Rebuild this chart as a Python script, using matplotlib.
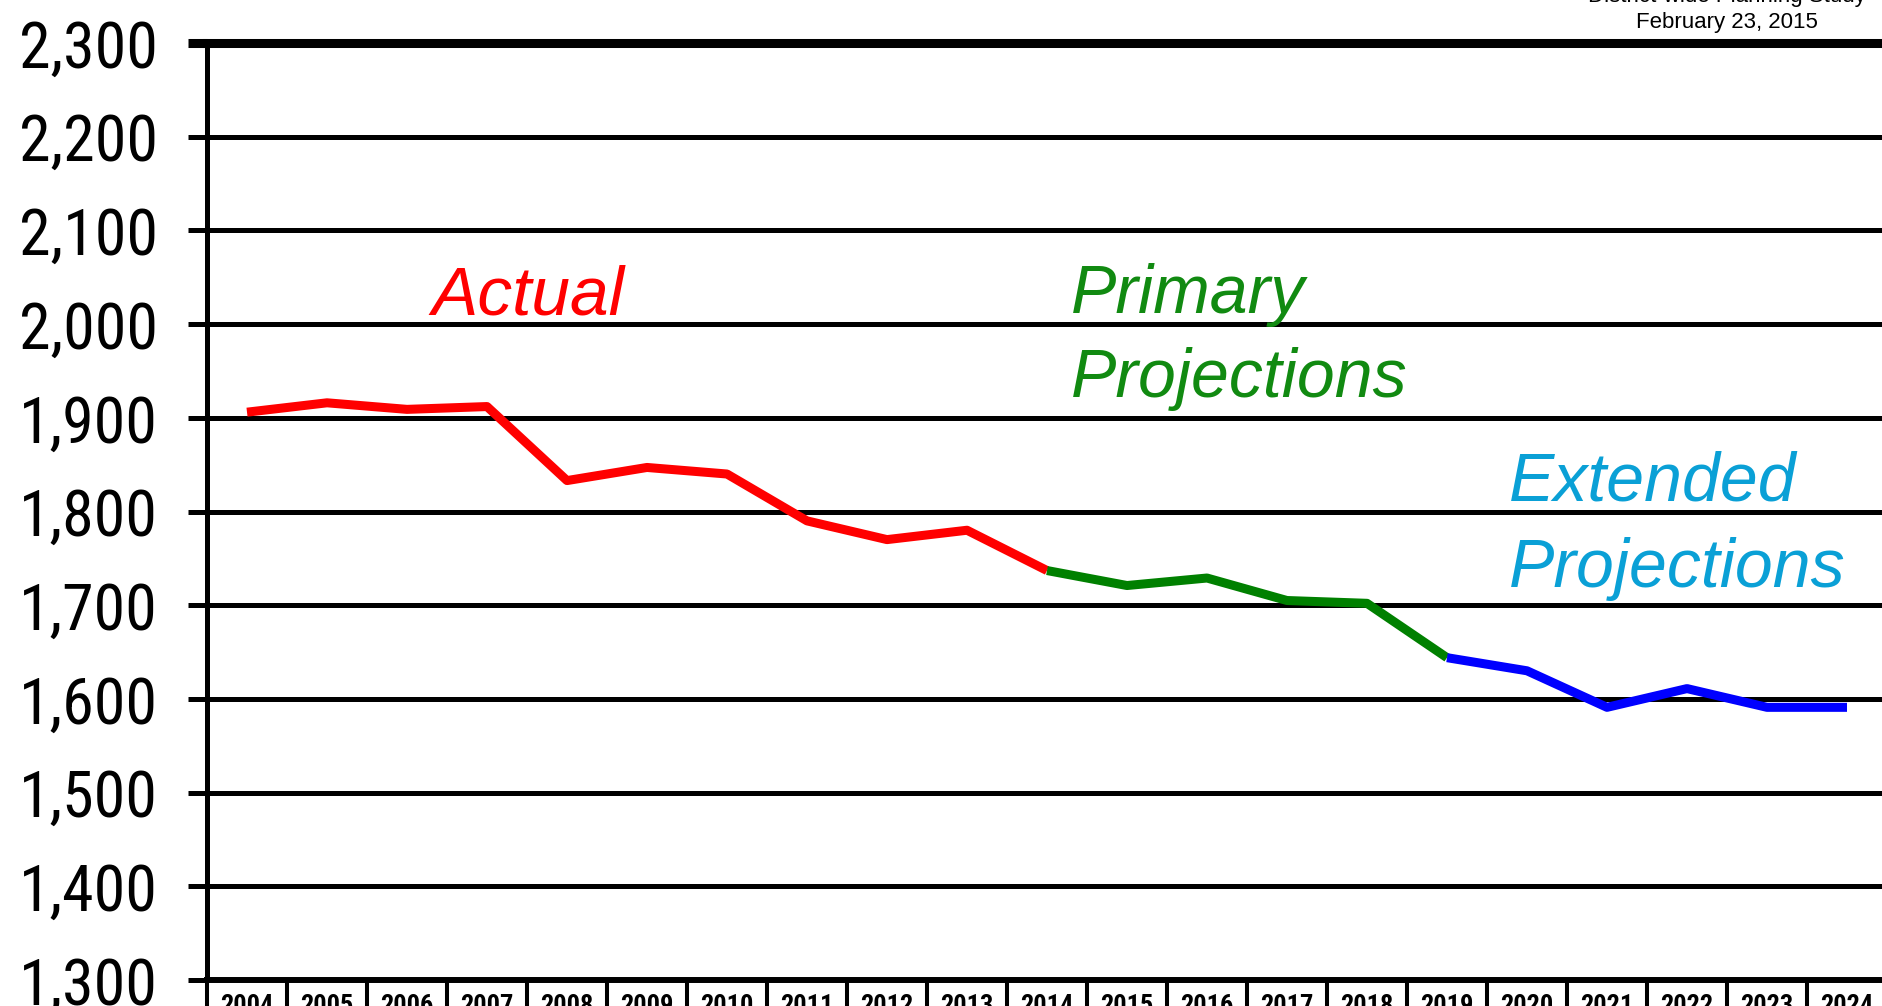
"""
Enrollment history and projections, 2004-2024
"""
import matplotlib
matplotlib.use('Agg')
import matplotlib.pyplot as plt
from matplotlib import font_manager
import numpy as np

years = [str(y) for y in range(2004, 2025)]

# values
actual = [1906, 1916, 1909, 1912, 1833, 1847, 1840, 1790, 1770, 1780, 1737]
primary = [1737, 1721, 1729, 1705, 1702, 1644]
extended = [1644, 1630, 1591, 1611, 1591, 1591]

y_ticks = list(range(1300, 2301, 100))

regular = ['Liberation Sans', 'DejaVu Sans']


def pick_narrow():
    # condensed face if the box has one, else plain Liberation Sans
    # (name, y label size, year label size)
    for name, ysize, xsize in [('Liberation Sans Narrow', 49, 20),
                               ('Roboto Condensed', 46, 19),
                               ('DejaVu Sans Condensed', 40, 16)]:
        try:
            font_manager.findfont(font_manager.FontProperties(family=name),
                                  fallback_to_default=False)
            return [name, 'Liberation Sans'], ysize, xsize
        except ValueError:
            pass
    return regular, 42, 17


narrow, ylab_size, xlab_size = pick_narrow()

fig = plt.figure(figsize=(18.82, 10.06), dpi=100)
fig.patch.set_facecolor('white')
ax = fig.add_axes([207 / 1882, 26 / 1006, 1680 / 1882, 937 / 1006])

x_act = np.arange(0, len(actual))
x_pri = np.arange(len(actual) - 1, len(actual) - 1 + len(primary))
x_ext = np.arange(x_pri[-1], x_pri[-1] + len(extended))

ax.plot(x_act, actual, color='#ff0000', lw=6.5, solid_capstyle='butt', zorder=3)
ax.plot(x_pri, primary, color='#008000', lw=6.5, solid_capstyle='butt', zorder=3)
ax.plot(x_ext, extended, color='#0000ff', lw=6.5, solid_capstyle='butt', zorder=3)

ax.set_xlim(-0.5, len(years) - 0.5)
ax.set_ylim(1300, 2300)

# y axis: thick gridlines with outward ticks
ax.set_yticks(y_ticks)
ax.set_yticklabels([f'{v:,}' for v in y_ticks], family=narrow, fontsize=ylab_size)
ax.tick_params(axis='y', direction='out', length=13.5, width=3.6, pad=22, color='black')
ax.yaxis.grid(True, color='black', lw=3.6)
ax.set_axisbelow(True)
top_tick = ax.yaxis.get_major_ticks()[-1]
top_tick.gridline.set_linewidth(6.5)
top_tick.gridline.set_clip_on(False)
top_tick.tick1line.set_markeredgewidth(6.5)

# x axis: boxed year labels below the axis
ax.set_xticks(np.arange(-0.5, len(years), 1.0))
ax.set_xticklabels([])
ax.tick_params(axis='x', which='major', direction='out', length=25, width=2.9, color='black')
ax.set_xticks(np.arange(len(years)), minor=True)
ax.set_xticklabels(years, minor=True, family=narrow, fontweight='bold',
                   fontsize=xlab_size, va='top')
ax.tick_params(axis='x', which='minor', length=0, pad=10)

for side in ['top', 'right']:
    ax.spines[side].set_visible(False)
ax.spines['left'].set_linewidth(3.6)
ax.spines['bottom'].set_linewidth(4.3)

# section labels (y is the baseline of the last line)
ax.text(2.3, 2010, 'Actual', color='#ff0000', fontsize=50, style='italic',
        family=regular, va='baseline')
ax.text(10.3, 1922, 'Primary\nProjections', color='#118a11', fontsize=49, style='italic',
        family=regular, va='baseline', linespacing=1.4)
ax.text(15.78, 1719, 'Extended\nProjections', color='#0aa0d6', fontsize=49, style='italic',
        family=regular, va='baseline', linespacing=1.45)

# header, cut off at the top
fig.text(1727 / 1882, 1 - 2 / 1006, 'District-wide Planning Study', fontsize=16,
         family=regular, ha='center', va='baseline')
fig.text(1727 / 1882, 1 - 28 / 1006, 'February 23, 2015', fontsize=16,
         family=regular, ha='center', va='baseline')

plt.savefig('out.png', dpi=100, facecolor='white')
plt.close()
